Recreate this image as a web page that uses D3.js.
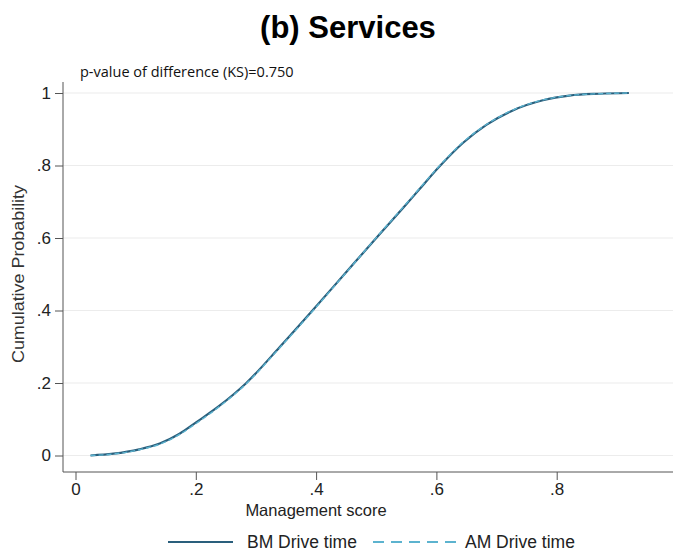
<!DOCTYPE html>
<html><head><meta charset="utf-8">
<script src="https://cdn.jsdelivr.net/npm/d3@7/dist/d3.min.js"></script>
<style>body{margin:0;background:#fff}svg{display:block}</style>
</head><body>
<svg id="c" width="673" height="551"></svg>
<script>
const titleText = "(b) Services";
const noteText = "p-value of difference (KS)=0.750";
const xLabel = "Management score";
const yLabel = "Cumulative Probability";
const xTicks = [0, 0.2, 0.4, 0.6, 0.8, 1];
const xTickLabels = ["0", ".2", ".4", ".6", ".8", "1"];
const yTicks = [0, 0.2, 0.4, 0.6, 0.8, 1];
const yTickLabels = ["0", ".2", ".4", ".6", ".8", "1"];
const seriesNames = ["BM Drive time", "AM Drive time"];
const bmX = [0.025,0.063,0.106,0.14,0.173,0.201,0.24,0.284,0.34,0.394,0.447,0.5,0.55,0.571,0.605,0.644,0.683,0.727,0.777,0.821,0.871,0.92];
const bmY = [0,0.005,0.017,0.033,0.06,0.092,0.138,0.2,0.3,0.4,0.5,0.6,0.693,0.733,0.797,0.862,0.912,0.952,0.98,0.993,0.998,1.0];
const amX = [0.025,0.063,0.106,0.14,0.173,0.201,0.24,0.284,0.34,0.394,0.447,0.5,0.55,0.571,0.605,0.644,0.683,0.727,0.777,0.821,0.871,0.92];
const amY = [0,0.004,0.016,0.031,0.058,0.089,0.136,0.198,0.298,0.398,0.499,0.601,0.695,0.735,0.799,0.864,0.913,0.953,0.981,0.993,0.998,1.0];

const svg = d3.select("#c");
const x = d3.scaleLinear().domain([0, 1]).range([75.5, 677]);
const y = d3.scaleLinear().domain([0, 1]).range([455.5, 93]);
const axL = 63, axB = 472, rightEdge = 673;
const colBM = "#2a5f7c", colAM = "#5cb3cf";
const sans = "Liberation Sans, Arial, sans-serif";

// title
svg.append("text").attr("x", 348).attr("y", 38).attr("text-anchor", "middle")
  .attr("font-family", sans).attr("font-weight", "bold")
  .attr("font-size", 31).attr("fill", "#000").text(titleText);

// gridlines
svg.append("g").selectAll("line").data(yTicks).join("line")
  .attr("x1", axL).attr("x2", rightEdge).attr("y1", d => y(d)).attr("y2", d => y(d))
  .attr("stroke", "#ececec").attr("stroke-width", 1.2);

// y axis
const yAxis = d3.axisLeft(y).tickValues(yTicks).tickFormat((d, i) => yTickLabels[i]).tickSize(8).tickPadding(4);
const gy = svg.append("g").attr("transform", `translate(${axL},0)`).call(yAxis);
gy.select(".domain").attr("d", `M0,82V${axB}`).attr("stroke", "#555");
gy.selectAll(".tick line").attr("stroke", "#555");
gy.selectAll(".tick text").attr("font-family", sans).attr("font-size", 17).attr("fill", "#222");

// x axis
const xAxis = d3.axisBottom(x).tickValues(xTicks).tickFormat((d, i) => xTickLabels[i]).tickSize(8).tickPadding(3);
const gx = svg.append("g").attr("transform", `translate(0,${axB})`).call(xAxis);
gx.select(".domain").attr("d", `M${axL},0H${rightEdge}`).attr("stroke", "#555");
gx.selectAll(".tick line").attr("stroke", "#555");
gx.selectAll(".tick text").attr("font-family", sans).attr("font-size", 17).attr("fill", "#222");

// axis titles
svg.append("text").attr("x", 316).attr("y", 516).attr("text-anchor", "middle")
  .attr("font-family", sans).attr("font-size", 16.5).attr("fill", "#222").text(xLabel);
svg.append("text").attr("transform", "translate(24,274) rotate(-90)").attr("text-anchor", "middle")
  .attr("font-family", sans).attr("font-size", 16).attr("fill", "#333")
  .attr("textLength", 178).attr("lengthAdjust", "spacingAndGlyphs").text(yLabel);

// note
svg.append("text").attr("x", 80).attr("y", 77)
  .attr("font-family", "Open Sans, sans-serif").attr("font-size", 14.5).attr("fill", "#111").text(noteText);

// lines
const line = d3.line().x(d => x(d[0])).y(d => y(d[1])).curve(d3.curveMonotoneX);
const bm = bmX.map((v, i) => [v, bmY[i]]);
const am = amX.map((v, i) => [v, amY[i]]);
svg.append("path").datum(bm).attr("d", line).attr("fill", "none").attr("stroke", colBM).attr("stroke-width", 2.2);
svg.append("path").datum(am).attr("d", line).attr("fill", "none").attr("stroke", colAM).attr("stroke-width", 1.4).attr("stroke-dasharray", "5,3");

// legend
const lg = svg.append("g");
lg.append("line").attr("x1", 168).attr("x2", 233).attr("y1", 542).attr("y2", 542).attr("stroke", colBM).attr("stroke-width", 2.2);
lg.append("text").attr("x", 247).attr("y", 548).attr("font-family", sans).attr("font-size", 17.5).attr("fill", "#222").text(seriesNames[0]);
lg.append("line").attr("x1", 373).attr("x2", 456).attr("y1", 542).attr("y2", 542).attr("stroke", colAM).attr("stroke-width", 2).attr("stroke-dasharray", "11,7");
lg.append("text").attr("x", 465).attr("y", 548).attr("font-family", sans).attr("font-size", 17.5).attr("fill", "#222").text(seriesNames[1]);
</script>
</body></html>
